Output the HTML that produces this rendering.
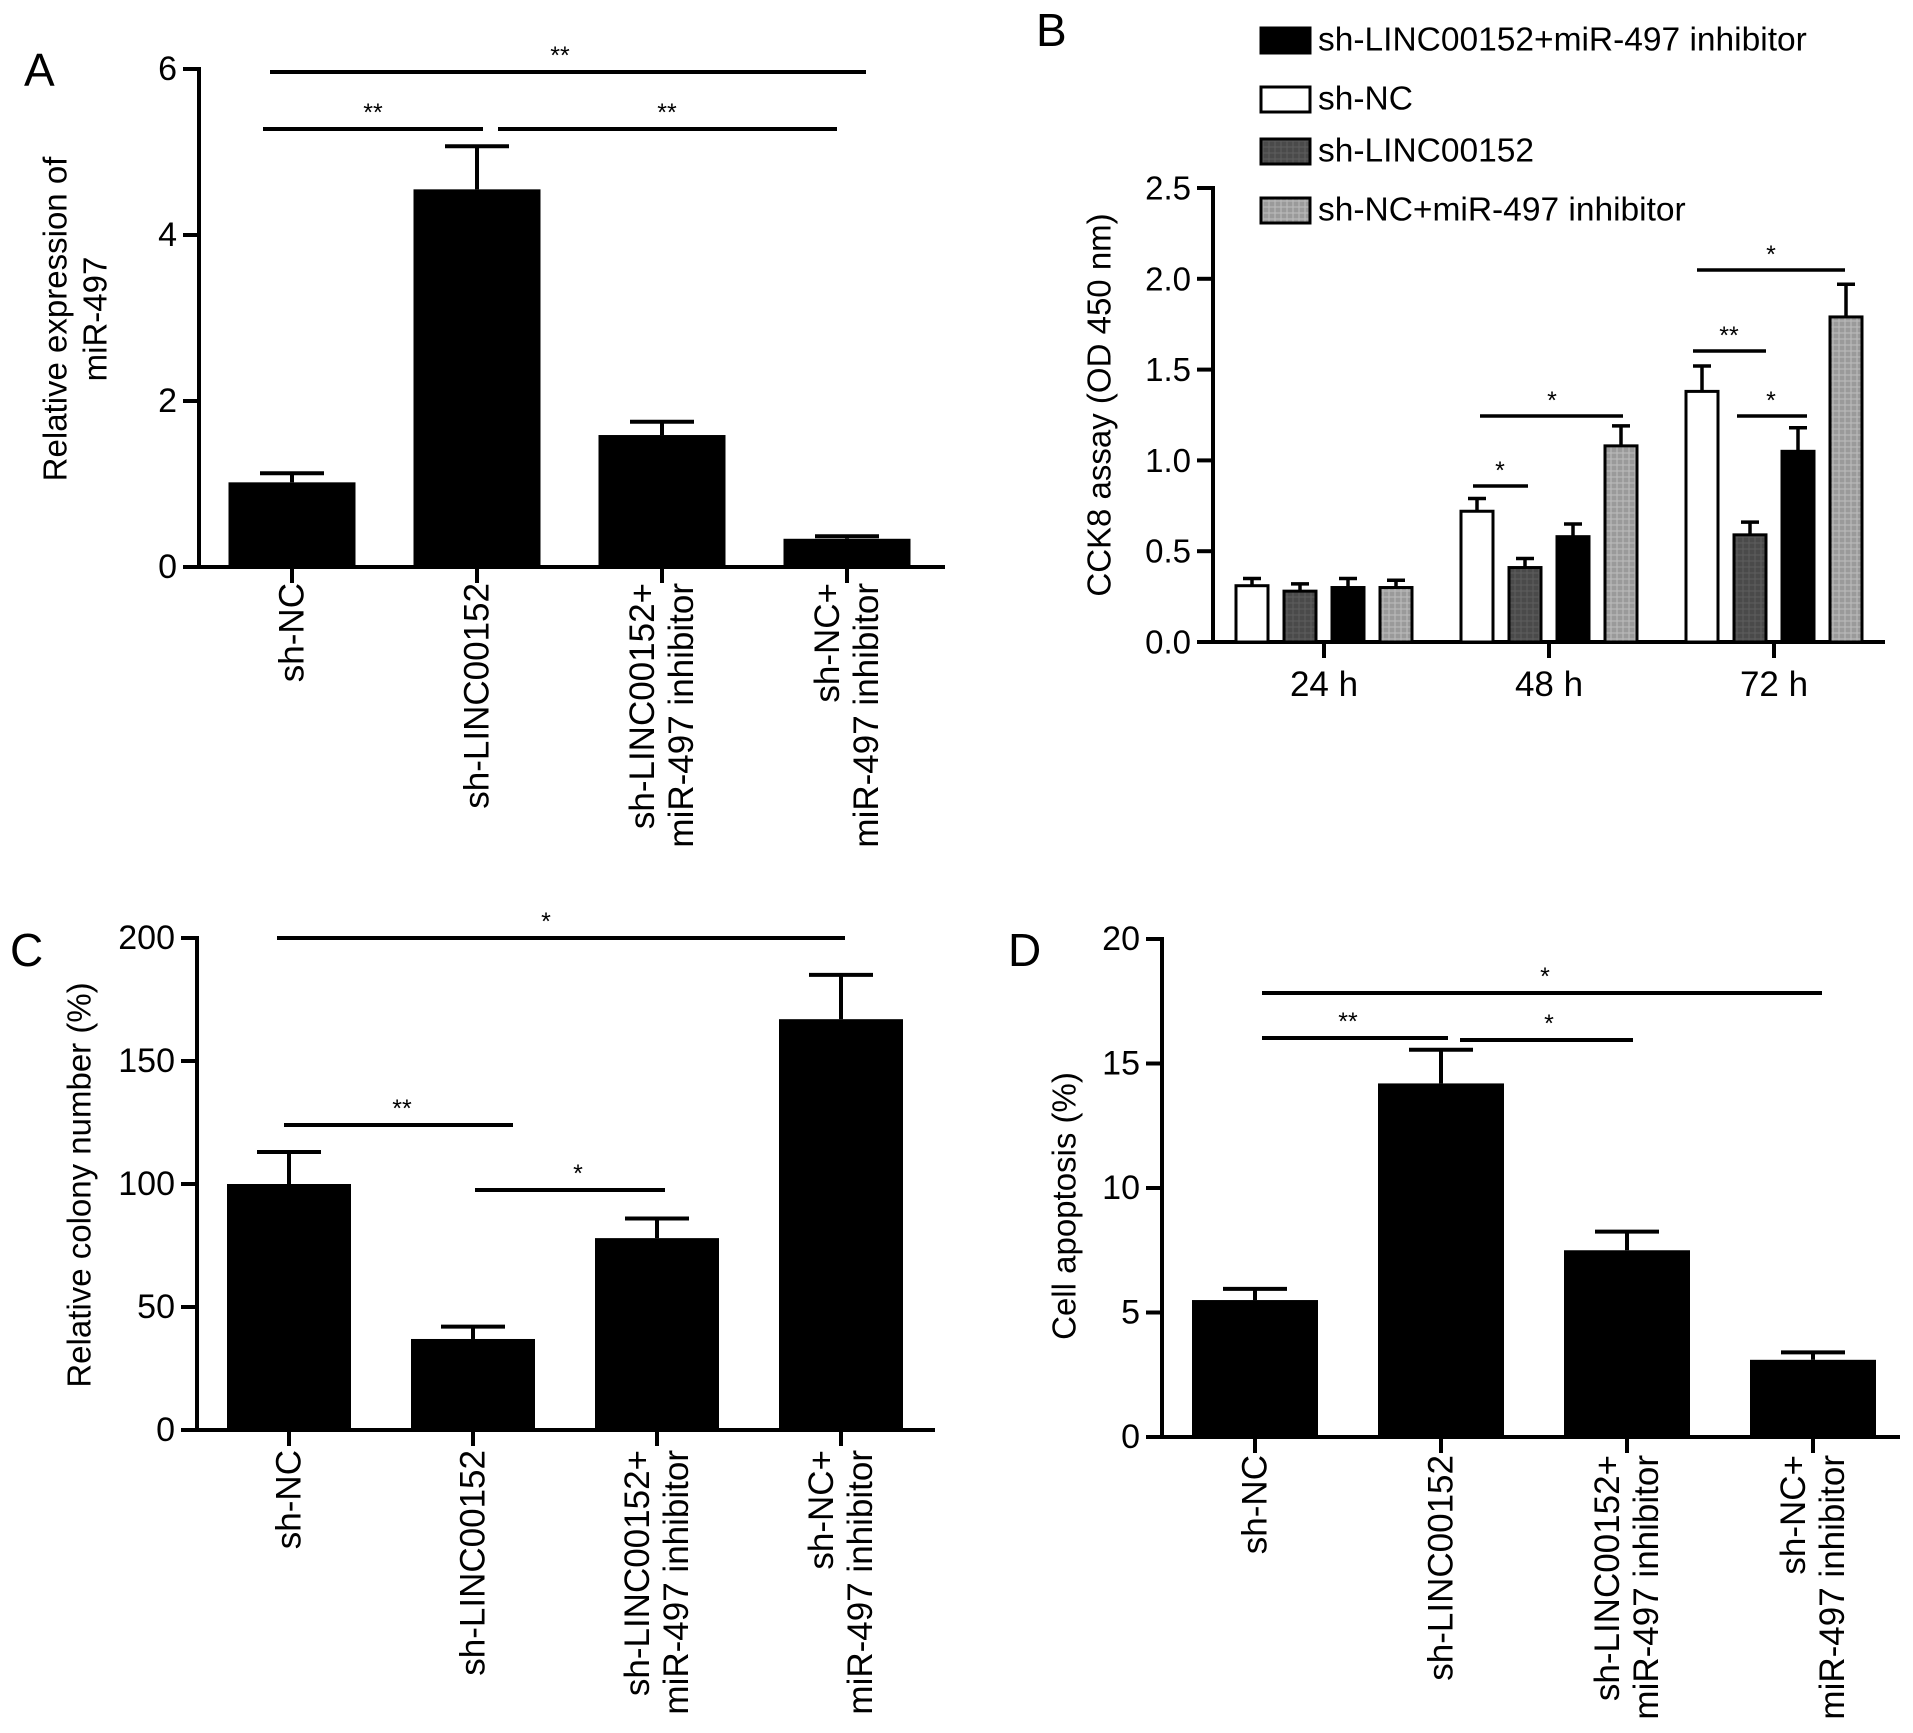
<!DOCTYPE html>
<html><head><meta charset="utf-8"><style>
html,body{margin:0;padding:0;background:#fff;}
svg{display:block;font-family:"Liberation Sans",Arial,sans-serif;}
</style></head><body>
<svg id="fig" width="1913" height="1733" viewBox="0 0 1913 1733" xmlns="http://www.w3.org/2000/svg">
<defs>
<pattern id="pDark" width="6" height="6" patternUnits="userSpaceOnUse"><rect width="6" height="6" fill="#4a4a4a"/><path d="M0 3H6M3 0V6" stroke="#5e5e5e" stroke-width="1"/></pattern>
<pattern id="pLight" width="6" height="6" patternUnits="userSpaceOnUse"><rect width="6" height="6" fill="#9a9a9a"/><path d="M0 3H6M3 0V6" stroke="#bdbdbd" stroke-width="1"/></pattern>
</defs>
<text x="24" y="86" font-size="46">A</text>
<text x="1036" y="46" font-size="46">B</text>
<text x="10" y="966" font-size="46">C</text>
<text x="1008" y="966" font-size="46">D</text>
</svg>
<script>
// Panel A data
const aCategories = [["sh-NC"],["sh-LINC00152"],["sh-LINC00152+","miR-497 inhibitor"],["sh-NC+","miR-497 inhibitor"]];
const aValues = [1.02, 4.55, 1.59, 0.34];
const aErrors = [0.11, 0.52, 0.16, 0.03];
const aTicks = [0, 2, 4, 6];
// Panel B data
const bGroups = ["24 h", "48 h", "72 h"];
const bSeries = ["sh-NC", "sh-LINC00152", "sh-LINC00152+miR-497 inhibitor", "sh-NC+miR-497 inhibitor"];
const bShNC = [0.31, 0.72, 1.38];
const bShLINC = [0.28, 0.41, 0.59];
const bShLINCInh = [0.30, 0.58, 1.05];
const bShNCInh = [0.30, 1.08, 1.79];
const bShNCErr = [0.04, 0.07, 0.14];
const bShLINCErr = [0.04, 0.05, 0.07];
const bShLINCInhErr = [0.05, 0.07, 0.13];
const bShNCInhErr = [0.04, 0.11, 0.18];
const bTicks = ["0.0", "0.5", "1.0", "1.5", "2.0", "2.5"];
const bLegendOrder = [2, 0, 1, 3];
// Panel C data
const cCategories = aCategories;
const cValues = [100, 37, 78, 167];
const cErrors = [13, 5, 8, 18];
const cTicks = [0, 50, 100, 150, 200];
// Panel D data
const dCategories = aCategories;
const dValues = [5.5, 14.2, 7.5, 3.1];
const dErrors = [0.45, 1.35, 0.75, 0.3];
const dTicks = [0, 5, 10, 15, 20];

const NS = "http://www.w3.org/2000/svg";
const svg = document.getElementById("fig");
function mk(tag, attrs, parent) {
  const e = document.createElementNS(NS, tag);
  for (const k in attrs) e.setAttribute(k, attrs[k]);
  (parent || svg).appendChild(e);
  return e;
}
function line(x1, y1, x2, y2, w, parent) {
  return mk("line", {x1: x1, y1: y1, x2: x2, y2: y2, stroke: "#000", "stroke-width": w || 4}, parent);
}
function txt(x, y, s, size, attrs, parent) {
  const t = mk("text", Object.assign({x: x, y: y, "font-size": size}, attrs || {}), parent);
  t.textContent = s;
  return t;
}

function simplePanel(p) {
  const g = mk("g", {});
  
  
  const ymin = p.ticks[0], ymax = p.ticks[p.ticks.length - 1];
  const yS = v => p.y0 - (v - ymin) / (ymax - ymin) * (p.y0 - p.yTop);
  const xS = i => p.x0 + i * p.step;
  const ya = line(p.axisX, p.yTop - 2, p.axisX, p.y0 + 2, 4, g);
  
  
  const xa = line(p.axisX - 2, p.y0, p.axisEnd, p.y0, 4, g);
  
  
  p.ticks.forEach(t => {
    const y = yS(t);
    line(p.axisX - 16, y, p.axisX, y, 4, g);
    const tl = txt(p.axisX - 22, y, String(t), p.tickSize, {"text-anchor": "end", "dominant-baseline": "central"}, g);
    
    
  });
  p.values.forEach((v, i) => {
    const cx = xS(i);
    const top = yS(v);
    const r = mk("rect", {x: cx - p.bw / 2, y: top, width: p.bw, height: p.y0 - top, fill: "#000"}, g);
    
    
    const ey = yS(v + p.errors[i]);
    line(cx, top, cx, ey, 4, g);
    line(cx - p.cap / 2, ey, cx + p.cap / 2, ey, 4, g);
    line(cx, p.y0, cx, p.y0 + 16, 4, g);
    const lines = p.cats[i];
    const n = lines.length;
    lines.forEach((s, k) => {
      const lx = cx + (k - (n - 1) / 2) * 39;
      const t = txt(0, 0, s, p.catSize, {"text-anchor": "end", "dominant-baseline": "central", transform: "translate(" + lx + "," + p.labelTop + ") rotate(-90)"}, g);
      
      
    });
  });
  p.title.forEach((s, k) => {
    const t = txt(0, 0, s, p.titleSize, {"text-anchor": "middle", "dominant-baseline": "central", transform: "translate(" + (p.titleX + k * 40) + "," + p.titleY + ") rotate(-90)"}, g);
    
    
  });
  p.sig.forEach(s => {
    const sl = line(s[0], s[2], s[1], s[2], 4, g);
    
    
    const st = txt(s[3], s[2] - 8, s[4], 25, {"text-anchor": "middle"}, g);
    
    
  });
}

simplePanel({name: "panel-a-chart", ticks: aTicks, values: aValues, errors: aErrors, cats: aCategories,
  axisX: 199, axisEnd: 945, y0: 567, yTop: 69, x0: 292, step: 185, bw: 127, cap: 64,
  tickSize: 34, catSize: 35, labelTop: 583, title: ["Relative expression of", "miR-497"], titleX: 55, titleY: 319, titleSize: 33,
  sig: [[270, 866, 72, 560, "**"], [263, 483, 129, 373, "**"], [498, 837, 129, 667, "**"]]});

simplePanel({name: "panel-c-chart", ticks: cTicks, values: cValues, errors: cErrors, cats: cCategories,
  axisX: 197, axisEnd: 935, y0: 1430, yTop: 938, x0: 289, step: 184, bw: 124, cap: 64,
  tickSize: 34, catSize: 35, labelTop: 1450, title: ["Relative colony number (%)"], titleX: 79, titleY: 1185, titleSize: 33,
  sig: [[277, 845, 938, 546, "*"], [284, 513, 1125, 402, "**"], [475, 665, 1190, 578, "*"]]});

simplePanel({name: "panel-d-chart", ticks: dTicks, values: dValues, errors: dErrors, cats: dCategories,
  axisX: 1162, axisEnd: 1900, y0: 1437, yTop: 939, x0: 1255, step: 186, bw: 126, cap: 64,
  tickSize: 34, catSize: 35, labelTop: 1455, title: ["Cell apoptosis (%)"], titleX: 1064, titleY: 1206, titleSize: 33,
  sig: [[1262, 1822, 993, 1545, "*"], [1262, 1448, 1038, 1348, "**"], [1460, 1633, 1040, 1549, "*"]]});

(function () {
  const g = mk("g", {});
  
  
  const axisX = 1213, y0 = 642, yTop = 188, axisEnd = 1885;
  const yS = v => y0 - v / 2.5 * (y0 - yTop);
  const gx = i => 1324 + i * 225;
  const series = [bShNC, bShLINC, bShLINCInh, bShNCInh];
  const errs = [bShNCErr, bShLINCErr, bShLINCInhErr, bShNCInhErr];
  const fills = ["#fff", "url(#pDark)", "#000", "url(#pLight)"];
  const ya = line(axisX, yTop - 2, axisX, y0 + 2, 4, g);
  
  
  const xa = line(axisX - 2, y0, axisEnd, y0, 4, g);
  
  
  bTicks.forEach(t => {
    const y = yS(parseFloat(t));
    line(axisX - 16, y, axisX, y, 4, g);
    const tl = txt(axisX - 22, y, t, 33, {"text-anchor": "end", "dominant-baseline": "central"}, g);
    
    
  });
  bGroups.forEach((lab, gi) => {
    const c = gx(gi);
    line(c, y0, c, y0 + 16, 4, g);
    const tl = txt(c, 696, lab, 35, {"text-anchor": "middle"}, g);
    
    
    series.forEach((arr, si) => {
      const cx = c + (si - 1.5) * 48;
      const top = yS(arr[gi]);
      const r = mk("rect", {x: cx - 16, y: top, width: 32, height: y0 - top, fill: fills[si], stroke: "#000", "stroke-width": 3}, g);
      
      
      const ey = yS(arr[gi] + errs[si][gi]);
      line(cx, top, cx, ey, 3.5, g);
      line(cx - 9, ey, cx + 9, ey, 3.5, g);
    });
  });
  const yt = txt(0, 0, "CCK8 assay (OD 450 nm)", 33, {"text-anchor": "middle", "dominant-baseline": "central", transform: "translate(1099,405) rotate(-90)"}, g);
  
  
  const legYs = [40, 99, 151, 210];
  bLegendOrder.forEach((si, k) => {
    const y = legYs[k];
    const sw = mk("rect", {x: 1261, y: y - 12, width: 49, height: 25, fill: fills[si], stroke: "#000", "stroke-width": 3}, g);
    
    
    const lt = txt(1318, y, bSeries[si], 33.5, {"dominant-baseline": "central"}, g);
    
    
  });
  const sig = [[1473, 1528, 486, 1500, "*"], [1480, 1623, 416, 1552, "*"], [1697, 1845, 270, 1771, "*"], [1693, 1766, 351, 1729, "**"], [1737, 1807, 416, 1771, "*"]];
  sig.forEach(s => {
    const sl = line(s[0], s[2], s[1], s[2], 3.5, g);
    
    
    const st = txt(s[3], s[2] - 7, s[4], 25, {"text-anchor": "middle"}, g);
    
    
  });
})();
</script>
</body></html>
